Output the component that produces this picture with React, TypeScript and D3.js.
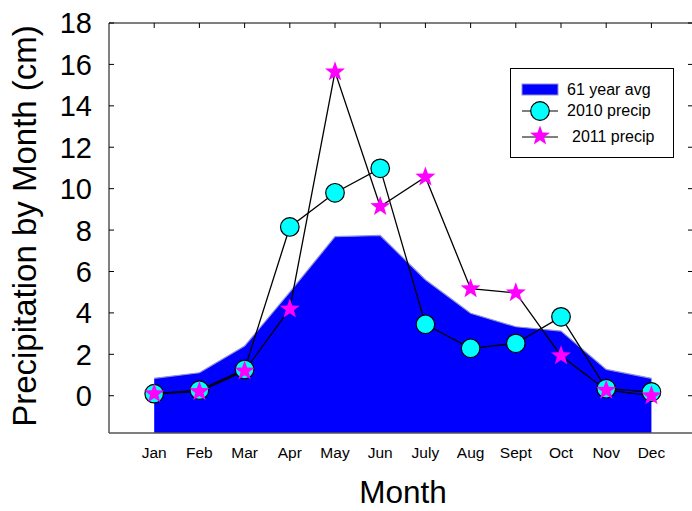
import React from "react";
import * as d3 from "d3";

const months = ["Jan", "Feb", "Mar", "Apr", "May", "Jun", "July", "Aug", "Sept", "Oct", "Nov", "Dec"];
const avg61 = [0.84, 1.11, 2.4, 5.0, 7.68, 7.74, 5.6, 3.98, 3.33, 3.12, 1.27, 0.84];
const precip2010 = [0.1, 0.27, 1.27, 8.15, 9.8, 10.98, 3.45, 2.29, 2.53, 3.81, 0.34, 0.18];
const precip2011 = [0.1, 0.2, 1.2, 4.19, 15.64, 9.14, 10.56, 5.17, 4.97, 1.93, 0.27, 0.0];
const yTicks = [0, 2, 4, 6, 8, 10, 12, 14, 16, 18];

const W = 692;
const H = 511;
const left = 109;
const right = 693;
const top = 23;
const bottom = 433;

function starPath(cx: number, cy: number, R: number, r: number): string {
  const pts: [number, number][] = [];
  for (let i = 0; i < 10; i++) {
    const a = -Math.PI / 2 + (i * Math.PI) / 5;
    const rad = i % 2 === 0 ? R : r;
    pts.push([cx + rad * Math.cos(a), cy + rad * Math.sin(a)]);
  }
  return "M" + pts.map((p) => p.join(",")).join("L") + "Z";
}

export default function App() {
  const x = d3.scaleLinear().domain([0, 12.92]).range([left, right]);
  const y = d3.scaleLinear().domain([-1.8, 18]).range([bottom, top]);
  const idx = months.map((_, i) => i + 1);

  const area = d3
    .area<number>()
    .x((_, i) => x(idx[i]))
    .y0(() => y(-1.8))
    .y1((d) => y(d));
  const areaTop = d3
    .line<number>()
    .x((_, i) => x(idx[i]))
    .y((d) => y(d));
  const line = d3
    .line<number>()
    .x((_, i) => x(idx[i]))
    .y((d) => y(d));

  const font = "Liberation Sans, Arial, sans-serif";

  return (
    <svg width={W} height={H} style={{ position: "absolute", left: 0, top: 0 }} fontFamily={font}>
      <rect x={0} y={0} width={W} height={H} fill="#fff" />
      {/* area */}
      <path d={area(avg61) || ""} fill="#0000ff" />
      <path d={areaTop(avg61) || ""} fill="none" stroke="#9090d8" strokeWidth={1.2} />
      {/* frame */}
      <line x1={left} x2={right} y1={top} y2={top} stroke="#000" strokeWidth={1} />
      <line x1={left} x2={left} y1={top} y2={bottom} stroke="#000" strokeWidth={1} />
      <line x1={right} x2={right} y1={top} y2={bottom} stroke="#000" strokeWidth={1} />
      <line x1={left} x2={right} y1={bottom} y2={bottom} stroke="#555" strokeWidth={1.5} />
      {/* y ticks */}
      {yTicks.map((t) => (
        <g key={t}>
          <line x1={left} x2={left + 5} y1={y(t)} y2={y(t)} stroke="#000" />
          <line x1={right - 5} x2={right} y1={y(t)} y2={y(t)} stroke="#000" />
          <text x={92} y={y(t)} dy="0.36em" textAnchor="end" fontSize={29}>
            {t}
          </text>
        </g>
      ))}
      {/* x ticks top + labels */}
      {months.map((m, i) => (
        <g key={m}>
          <line x1={x(idx[i])} x2={x(idx[i])} y1={top} y2={top + 5} stroke="#000" />
          <text x={x(idx[i])} y={458} textAnchor="middle" fontSize={15.5}>
            {m}
          </text>
        </g>
      ))}
      {/* series lines */}
      <path d={line(precip2010) || ""} fill="none" stroke="#000" strokeWidth={1.3} />
      <path d={line(precip2011) || ""} fill="none" stroke="#000" strokeWidth={1.3} />
      {precip2010.map((v, i) => (
        <circle key={"c" + i} cx={x(idx[i])} cy={y(v)} r={9.3} fill="#00ffff" stroke="#000" strokeWidth={1.2} />
      ))}
      {precip2011.map((v, i) => (
        <path key={"s" + i} d={starPath(x(idx[i]), y(v), 10.5, 4.3)} fill="#ff00ff" />
      ))}
      {/* axis titles */}
      <text
        transform={`translate(${36},${226}) rotate(-90)`}
        textAnchor="middle"
        fontSize={33}
      >
        Precipitation by Month (cm)
      </text>
      <text x={403} y={503} textAnchor="middle" fontSize={31.5}>
        Month
      </text>
      {/* legend */}
      <rect x={510.5} y={68.5} width={163} height={89} fill="#fff" stroke="#000" strokeWidth={1} />
      <rect x={522} y={84} width={36} height={11} fill="#0000ff" stroke="#9090d8" strokeWidth={1} />
      <text x={567} y={95} fontSize={16}>61 year avg</text>
      <line x1={522} x2={558} y1={111} y2={111} stroke="#000" strokeWidth={1.2} />
      <circle cx={540} cy={111} r={9.3} fill="#00ffff" stroke="#000" strokeWidth={1.2} />
      <text x={567} y={116} fontSize={16}>2010 precip</text>
      <line x1={522} x2={558} y1={137} y2={137} stroke="#000" strokeWidth={1.2} />
      <path d={starPath(540, 136, 10.5, 4.3)} fill="#ff00ff" />
      <text x={572} y={142} fontSize={16}>2011 precip</text>
    </svg>
  );
}
